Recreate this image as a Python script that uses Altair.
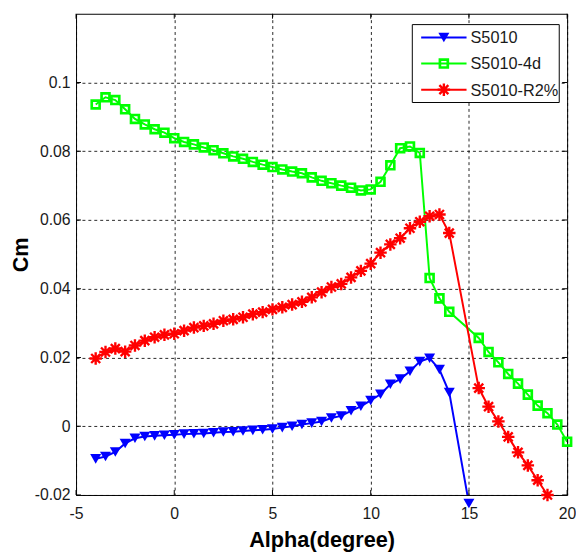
import altair as alt
import pandas as pd

# ---------------- data ----------------
alpha_main = [-4, -3.5, -3, -2.5, -2, -1.5, -1, -0.5, 0, 0.5, 1, 1.5, 2, 2.5, 3, 3.5,
              4, 4.5, 5, 5.5, 6, 6.5, 7, 7.5, 8, 8.5, 9, 9.5, 10, 10.5, 11, 11.5,
              12, 12.5, 13, 13.5, 14]

alpha_s5010 = alpha_main + [15]
cm_s5010 = [-0.0095, -0.0088, -0.0075, -0.0050, -0.0035, -0.0030, -0.0028, -0.0026,
            -0.0025, -0.0023, -0.0022, -0.0021, -0.0019, -0.0017, -0.0016, -0.0014,
            -0.0012, -0.0010, -0.0008, -0.0004, 0.0000, 0.0005, 0.0009, 0.0014,
            0.0024, 0.0030, 0.0045, 0.0058, 0.0075, 0.0093, 0.0122, 0.0137,
            0.0160, 0.0188, 0.0198, 0.0165, 0.0098, -0.0225]

alpha_4d = alpha_main + [15.5, 16, 16.5, 17, 17.5, 18, 18.5, 19, 19.5, 20]
cm_4d = [0.0936, 0.0957, 0.0949, 0.0922, 0.0894, 0.0878, 0.0864, 0.0854,
         0.0838, 0.0827, 0.0820, 0.0811, 0.0803, 0.0794, 0.0785, 0.0778,
         0.0769, 0.0761, 0.0754, 0.0747, 0.0741, 0.0736, 0.0724, 0.0714,
         0.0707, 0.0700, 0.0694, 0.0686, 0.0689, 0.0711, 0.0759, 0.0809,
         0.0814, 0.0795, 0.0431, 0.0372, 0.0333,
         0.0257, 0.0216, 0.0186, 0.0152, 0.0124, 0.0092, 0.0060, 0.0038, 0.0005, -0.0045]

alpha_r2 = alpha_main + [15.5, 16, 16.5, 17, 17.5, 18, 18.5, 19]
cm_r2 = [0.0197, 0.0216, 0.0226, 0.0217, 0.0235, 0.0249, 0.0259, 0.0266,
         0.0269, 0.0278, 0.0287, 0.0292, 0.0298, 0.0307, 0.0311, 0.0317,
         0.0326, 0.0332, 0.0340, 0.0346, 0.0354, 0.0362, 0.0375, 0.0390,
         0.0405, 0.0414, 0.0433, 0.0452, 0.0473, 0.0505, 0.0529, 0.0547,
         0.0576, 0.0595, 0.0611, 0.0616, 0.0562,
         0.0111, 0.0057, 0.0014, -0.0031, -0.0076, -0.0114, -0.0157, -0.0200]

series_names = ["S5010", "S5010-4d", "S5010-R2%"]
series_colors = ["#0000FF", "#00FF00", "#FF0000"]

x_ticks = [-5, 0, 5, 10, 15, 20]
y_ticks = [-0.02, 0, 0.02, 0.04, 0.06, 0.08, 0.1]

# ---------------- build table ----------------
frames = []
for name, xs, ys in [(series_names[0], alpha_s5010, cm_s5010),
                     (series_names[1], alpha_4d, cm_4d),
                     (series_names[2], alpha_r2, cm_r2)]:
    frames.append(pd.DataFrame({"alpha": xs, "cm": ys, "series": name}))
df = pd.concat(frames, ignore_index=True)
legend_df = pd.DataFrame({"series": series_names})
xtick_df = pd.DataFrame({"alpha": x_ticks})
ytick_df = pd.DataFrame({"cm": y_ticks})

FONT = "Liberation Sans, Arial, sans-serif"
STAR = "M0,-1L0,1M-1,0L1,0M-0.72,-0.72L0.72,0.72M-0.72,0.72L0.72,-0.72"
W, H = 498, 488
TICK = 5
LEFT = 69  # plot-area left edge offset inside the svg

color_scale = alt.Scale(domain=series_names, range=series_colors)
color_enc = alt.Color("series:N", scale=color_scale, legend=None)

x_scale = alt.Scale(domain=[-5, 20], nice=False, zero=False)
y_scale = alt.Scale(domain=[-0.02, 0.12], nice=False, zero=False)

x_enc = alt.X("alpha:Q", scale=x_scale,
              axis=alt.Axis(values=x_ticks, title="Alpha(degree)",
                            labelExpr="'' + datum.value"))
y_enc = alt.Y("cm:Q", scale=y_scale,
              axis=alt.Axis(values=y_ticks, title="Cm",
                            labelExpr="'' + datum.value"))

base = alt.Chart(df)

lines = base.mark_line(strokeWidth=2, clip=True).encode(
    x=x_enc, y=y_enc, color=color_enc, detail="series:N", order="alpha:Q")

marker_styles = {
    "S5010": dict(shape="triangle-down", filled=True, size=125, strokeWidth=0),
    "S5010-4d": dict(shape="square", filled=False, size=64, strokeWidth=2.7),
    "S5010-R2%": dict(shape=STAR, filled=False, size=160, strokeWidth=2.4),
}


def marker_mark(chart, name):
    st = marker_styles[name]
    return chart.transform_filter(alt.datum.series == name).mark_point(
        shape=st["shape"], filled=st["filled"], size=st["size"],
        strokeWidth=st["strokeWidth"], opacity=1)


point_layers = [marker_mark(base, n).encode(x=x_enc, y=y_enc, color=color_enc)
                for n in series_names]

# ---------------- inward tick marks on all four sides (MATLAB style) ----------------
xt = alt.Chart(xtick_df)
yt = alt.Chart(ytick_df)
tick_layers = [
    xt.mark_rule(color="black", strokeWidth=1).encode(
        x=alt.X("alpha:Q", scale=x_scale), y=alt.value(H), y2=alt.value(H - TICK)),
    xt.mark_rule(color="black", strokeWidth=1).encode(
        x=alt.X("alpha:Q", scale=x_scale), y=alt.value(0), y2=alt.value(TICK)),
    yt.mark_rule(color="black", strokeWidth=1).encode(
        y=alt.Y("cm:Q", scale=y_scale), x=alt.value(0), x2=alt.value(TICK)),
    yt.mark_rule(color="black", strokeWidth=1).encode(
        y=alt.Y("cm:Q", scale=y_scale), x=alt.value(W), x2=alt.value(W - TICK)),
]

# ---------------- legend (inside plot, top-right; plot-area pixel offsets) ----------------
leg_base = alt.Chart(legend_df)
box = leg_base.transform_filter(alt.datum.series == series_names[0]).mark_rect(
    fill="white", stroke="black", strokeWidth=1).encode(
    x=alt.value(341), x2=alt.value(490), y=alt.value(11), y2=alt.value(90))

legend_layers = [box]
for i, n in enumerate(series_names):
    yy = 24 + 26.5 * i
    row = leg_base.transform_filter(alt.datum.series == n)
    legend_layers.append(row.mark_rule(strokeWidth=2).encode(
        x=alt.value(350), x2=alt.value(396), y=alt.value(yy), color=color_enc))
    legend_layers.append(marker_mark(leg_base, n).encode(
        x=alt.value(373), y=alt.value(yy), color=color_enc))
    legend_layers.append(row.mark_text(align="left", baseline="middle",
                                       font=FONT, fontSize=16.5, color="#1a1a1a").encode(
        x=alt.value(400), y=alt.value(yy + 1), text="series:N"))

chart = alt.layer(lines, *point_layers, *tick_layers, *legend_layers).properties(
    width=W, height=H,
    autosize=alt.AutoSizeParams(type="none"),
    padding={"left": LEFT, "top": 2, "right": 9, "bottom": 55},
).configure_view(
    stroke="black", strokeWidth=1, fill="white"
).configure_axis(
    grid=True, gridColor="black", gridDash=[3, 3], gridOpacity=0.85, gridWidth=1,
    domain=False, ticks=False, labelFlush=False,
    labelFont=FONT, labelFontSize=16, labelColor="#1a1a1a",
    titleFont=FONT, titleFontSize=22, titleFontWeight="bold", titleColor="black",
).configure_axisX(
    labelPadding=11, titlePadding=8
).configure_axisY(
    labelPadding=6, titlePadding=2
)

chart.save("out.html", embed_options={"renderer": "svg", "actions": False})
